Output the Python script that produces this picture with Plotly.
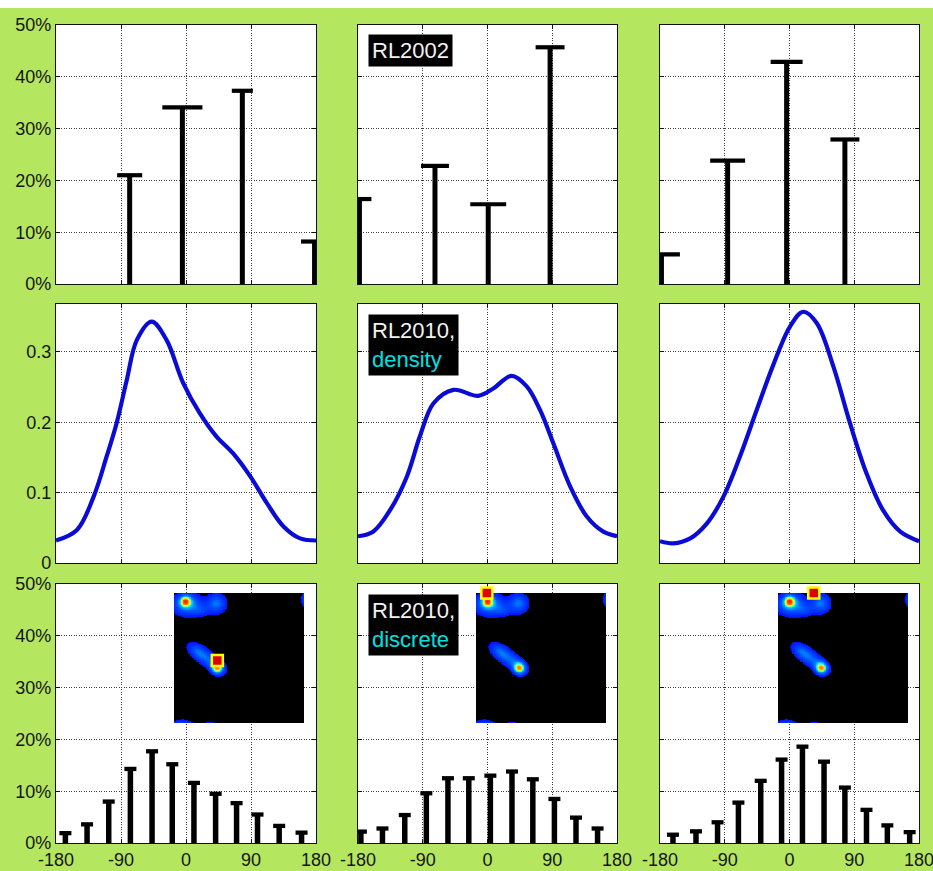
import numpy as np
import plotly.graph_objects as go

W, H = 933, 871

# ---------------- data ----------------
x_ticks = [-180, -90, 0, 90, 180]
pct_ticks = [0, 10, 20, 30, 40, 50]
dens_ticks = [0, 0.1, 0.2, 0.3]

# top row: RL2002 (percent)
top_x_left = [-78, -5, 78, 178]
top_y_left = [21.0, 34.1, 37.3, 8.2]
top_x_mid = [-178, -73, 1, 87]
top_y_mid = [16.4, 22.8, 15.4, 45.7]
top_x_right = [-178, -86, -4, 77]
top_y_right = [5.7, 23.8, 42.9, 27.9]

# middle row: RL2010 density
dens_x_left = [-180, -151, -128, -110, -96, -82, -68, -47.5, -27, -4, 19, 42, 65, 89, 112, 135, 158, 180]
dens_y_left = [0.032, 0.047, 0.094, 0.151, 0.199, 0.260, 0.317, 0.343, 0.317, 0.256, 0.213, 0.180,
               0.156, 0.123, 0.085, 0.052, 0.035, 0.032]
dens_x_mid = [-180, -159, -135.5, -112, -94, -75, -47.5, -13, 8, 33.6, 54.5, 73, 91.5, 115, 138, 161, 180]
dens_y_mid = [0.038, 0.0445, 0.075, 0.123, 0.180, 0.227, 0.246, 0.2375, 0.248, 0.266, 0.251, 0.2175,
              0.170, 0.1085, 0.066, 0.0445, 0.038]
dens_x_right = [-180, -161.5, -138, -115, -92, -69, -45.6, -22.5, 0.7, 19.2, 37.8, 61, 84, 107, 130, 154, 180]
dens_y_right = [0.031, 0.028, 0.035, 0.056, 0.094, 0.151, 0.2175, 0.2815, 0.336, 0.357, 0.341, 0.279,
                0.199, 0.1275, 0.075, 0.0445, 0.031]

# bottom row: RL2010 discrete (percent)
bot_x_left = [-167, -137, -107, -77, -47, -19, 11, 41, 70, 99, 129, 160]
bot_y_left = [1.9, 3.6, 8.0, 14.3, 17.7, 15.2, 11.6, 9.5, 7.7, 5.5, 3.3, 2.0]
bot_x_mid = [-176, -146, -115, -85, -55, -26, 4, 34, 63, 93, 123, 153]
bot_y_mid = [2.2, 2.8, 5.4, 9.6, 12.5, 12.5, 13.0, 13.8, 12.3, 8.5, 4.9, 2.8]
bot_x_right = [-162, -130, -100, -71, -40, -11, 18, 48, 77, 107, 136, 167]
bot_y_right = [1.6, 2.25, 4.0, 7.8, 12.0, 16.1, 18.6, 15.7, 10.7, 6.4, 3.4, 2.1]

# inset density map (phi, psi) blobs
blob_phi = [-145, -149, -63, -105, 183, -158, -80, 183, -90, -118, -61]
blob_psi = [150, 158, 152, 132, 163, -183, -183, -183, 0, 20, -27]
blob_sphi = [28, 10, 19, 16, 9, 24, 13, 6, 40, 16, 11]
blob_spsi = [21, 10, 19, 12, 17, 10, 8, 6, 15, 13, 11]
blob_ang = [0, 0, 0, 0, 0, 0, 0, 0, -37, -37, 0]
blob_amp = [0.45, 0.58, 0.36, 0.15, 0.26, 0.24, 0.18, 0.16, 0.34, 0.12, 0.66]

# current conformation markers (phi, psi)
marker_phi = [-60, -150, -81]
marker_psi = [-7, 180, 180]

# ---------------- layout geometry ----------------
col_px = [(56, 316), (358, 617), (660, 919)]
row_px = [(25, 284), (304, 563), (584, 843)]
inset_px_x = [(174, 304), (476, 606), (778, 908)]
inset_px_y = (593, 723)

GREEN = '#b4e660'
FONT = 'Liberation Sans, Arial, sans-serif'
TXT = '#151515'
UNIT_PER_PX_X = 360 / 259.5
UNIT_PER_PX_PCT = 50 / 259.0

fig = go.Figure()
layout = {}


def ax_name(i, kind):
    return kind + ('axis' if i == 1 else f'axis{i}')


def ref(i, kind):
    return kind if i == 1 else f'{kind}{i}'


top_sets = [(top_x_left, top_y_left, [25, 40, 21, 27]),
            (top_x_mid, top_y_mid, [24, 28, 36, 29]),
            (top_x_right, top_y_right, [37, 35, 32, 29])]
dens_sets = [(dens_x_left, dens_y_left), (dens_x_mid, dens_y_mid), (dens_x_right, dens_y_right)]
bot_sets = [(bot_x_left, bot_y_left), (bot_x_mid, bot_y_mid), (bot_x_right, bot_y_right)]


def add_stems(i, xs, ys, stem_px, cap_px, cap_thick_px):
    xr, yr = ref(i, 'x'), ref(i, 'y')
    fig.add_trace(go.Bar(x=xs, y=ys, width=stem_px * UNIT_PER_PX_X,
                         marker=dict(color='black', line=dict(width=0)),
                         xaxis=xr, yaxis=yr, showlegend=False, hoverinfo='skip'))
    th = cap_thick_px * UNIT_PER_PX_PCT
    widths = [w * UNIT_PER_PX_X for w in (cap_px if isinstance(cap_px, list) else [cap_px] * len(xs))]
    fig.add_trace(go.Bar(x=xs, y=[th] * len(xs), base=[v - th / 2 for v in ys], width=widths,
                         marker=dict(color='black', line=dict(width=0)),
                         xaxis=xr, yaxis=yr, showlegend=False, hoverinfo='skip'))


for r in range(3):
    for c in range(3):
        i = r * 3 + c + 1
        x0, x1 = col_px[c]
        y0, y1 = row_px[r]
        common = dict(showgrid=True, gridcolor='#3c3c3c', griddash='1px,1.5px', gridwidth=1,
                      zeroline=False, showline=True, linecolor='#111', linewidth=1.2, mirror='allticks',
                      ticks='inside', ticklen=4, tickcolor='#111', automargin=False,
                      ticklabeloverflow='allow',
                      tickfont=dict(family=FONT, size=18, color=TXT), fixedrange=True)
        xa = dict(domain=[x0 / W, x1 / W], range=[-180, 180], tickvals=x_ticks,
                  ticktext=[str(t) for t in x_ticks], showticklabels=(r == 2),
                  anchor=ref(i, 'y'), **common)
        ya = dict(domain=[1 - y1 / H, 1 - y0 / H], showticklabels=(c == 0),
                  anchor=ref(i, 'x'), **common)
        if r == 1:
            ya.update(range=[0, 0.368], tickvals=dens_ticks, ticktext=['0', '0.1', '0.2', '0.3'])
        else:
            ya.update(range=[0, 50], tickvals=pct_ticks, ticktext=[f'{t}%' for t in pct_ticks])
        layout[ax_name(i, 'x')] = xa
        layout[ax_name(i, 'y')] = ya

        if r == 0:
            xs, ys, caps = top_sets[c]
            add_stems(i, xs, ys, 5, caps, 4.2)
        elif r == 1:
            xs, ys = dens_sets[c]
            fig.add_trace(go.Scatter(x=xs, y=ys, mode='lines',
                                     line=dict(color='#0b0bd6', width=4.2, shape='spline', smoothing=1.0),
                                     xaxis=ref(i, 'x'), yaxis=ref(i, 'y'), showlegend=False))
        else:
            xs, ys = bot_sets[c]
            add_stems(i, xs, ys, 5.5, 12, 4.3)

# ---------------- inset density maps ----------------
g = np.linspace(-180, 180, 181)
PHI, PSI = np.meshgrid(g, g)
Z = np.zeros_like(PHI)
for p, q, s1, s2, a, amp in zip(blob_phi, blob_psi, blob_sphi, blob_spsi, blob_ang, blob_amp):
    t = np.deg2rad(a)
    dx = PHI - p
    dy = PSI - q
    u = dx * np.cos(t) + dy * np.sin(t)
    v = -dx * np.sin(t) + dy * np.cos(t)
    Z += amp * np.exp(-0.5 * ((u / s1) ** 2 + (v / s2) ** 2))
Z = np.clip(Z, 0, 1)

cscale = [[0.0, '#000000'], [0.1, '#000000'], [0.1001, '#0014ff'], [0.3, '#0050ff'],
          [0.45, '#00a8ff'], [0.58, '#30ffe0'], [0.7, '#ffff00'], [0.84, '#ff8000'], [1.0, '#ff1000']]

for k in range(3):
    i = 10 + k
    xa0, xa1 = inset_px_x[k]
    ya0, ya1 = inset_px_y
    layout[ax_name(i, 'x')] = dict(domain=[xa0 / W, xa1 / W], range=[-180, 180], visible=False,
                                   anchor=ref(i, 'y'), fixedrange=True, automargin=False)
    layout[ax_name(i, 'y')] = dict(domain=[1 - ya1 / H, 1 - ya0 / H], range=[-180, 180], visible=False,
                                   anchor=ref(i, 'x'), fixedrange=True, automargin=False)
    fig.add_trace(go.Heatmap(x=g, y=g, z=Z, zmin=0, zmax=1, colorscale=cscale, showscale=False,
                             zsmooth='best', hoverinfo='skip',
                             xaxis=ref(i, 'x'), yaxis=ref(i, 'y')))
    fig.add_trace(go.Scatter(x=[marker_phi[k]], y=[marker_psi[k]], mode='markers', cliponaxis=False,
                             marker=dict(symbol='square', size=11, color='#e00000',
                                         line=dict(color='#ffff00', width=2.5)),
                             xaxis=ref(i, 'x'), yaxis=ref(i, 'y'), showlegend=False))

# ---------------- labels ----------------
ann_font = dict(family=FONT, size=22, color='#f2f2f2')
labels = [
    ('RL2002', 34),
    ("RL2010,<br><span style='color:#00e0e0'>density</span>", 314),
    ("RL2010,<br><span style='color:#00e0e0'>discrete</span>", 594),
]
annotations = []
for text, ytop in labels:
    annotations.append(dict(text=text, xref='paper', yref='paper', x=367.5 / W, y=1 - ytop / H,
                            xanchor='left', yanchor='top', showarrow=False, align='left',
                            bgcolor='black', borderpad=3, font=ann_font))

layout.update(
    template='none',
    width=W, height=H, margin=dict(l=0, r=0, t=0, b=0, pad=0), autosize=False,
    paper_bgcolor=GREEN, plot_bgcolor='white',
    font=dict(family=FONT, size=18, color=TXT),
    barmode='overlay', showlegend=False, annotations=annotations,
    shapes=[dict(type='rect', xref='paper', yref='paper', x0=0, x1=1, y0=1 - 8 / H, y1=1,
                 fillcolor='white', line=dict(width=0), layer='above')],
)
fig.update_layout(**layout)
fig.write_html('out.html', config={'displayModeBar': False},
               post_script="document.body.style.margin='0';document.body.style.overflow='hidden';")
